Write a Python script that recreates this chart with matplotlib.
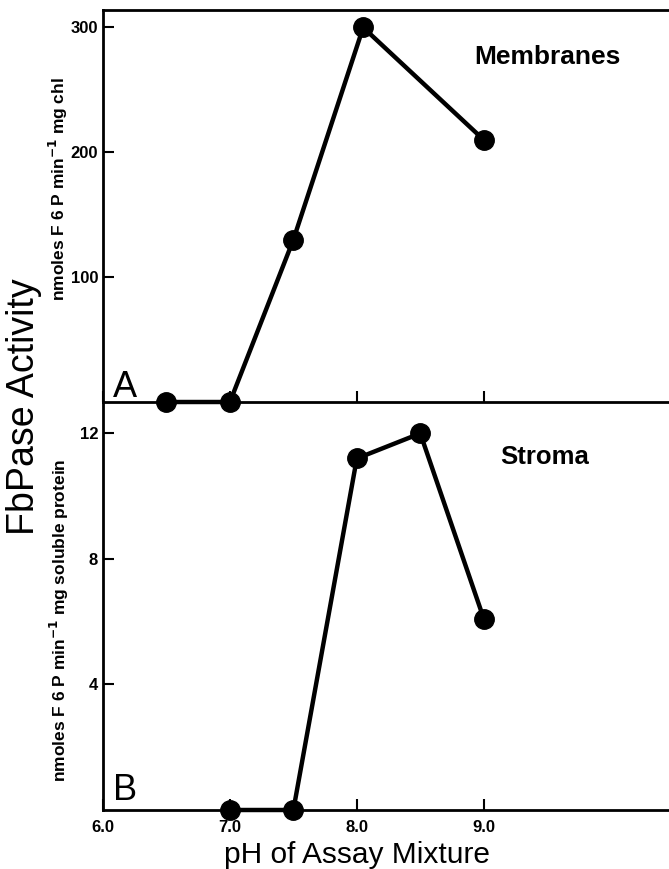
import matplotlib
matplotlib.use("Agg")
import matplotlib.pyplot as plt

# ? Panel A : membranes
ph_membranes = [6.5, 7.0, 7.5, 8.05, 9.0]
act_membranes = [0, 0, 130, 300, 210]

# ? Panel B : stroma
ph_stroma = [7.0, 7.5, 8.0, 8.5, 9.0]
act_stroma = [0, 0, 11.2, 12.0, 6.1]

x_ticks = [6.0, 7.0, 8.0, 9.0]
x_tick_labels = ["6.0", "7.0", "8.0", "9.0"]
y_ticks_membranes = [100, 200, 300]
y_ticks_stroma = [4, 8, 12]

tick_font = {"fontsize": 12, "fontweight": "bold"}


def style_axis(ax):
    """Common look of both panels"""
    ax.set_facecolor("none")
    ax.set_xlim(6.0, 10.46)
    ax.tick_params(direction="in", length=8, width=1.5, color="black")
    ax.spines["right"].set_visible(False)
    for side in ("left", "top", "bottom"):
        ax.spines[side].set_linewidth(2.0)


def main():
    plt.rcParams["font.family"] = ["Liberation Sans", "DejaVu Sans"]

    fig = plt.figure(figsize=(6.69, 8.69), dpi=100)
    ax1 = fig.add_axes([0.154, 0.5374, 0.846, 0.4511])
    ax2 = fig.add_axes([0.154, 0.0679, 0.846, 0.4695])

    # * Top panel
    ax1.plot(ph_membranes, act_membranes, color="black", lw=3.2,
             marker="o", ms=14, clip_on=False, zorder=5)
    ax1.set_ylim(0, 314)
    style_axis(ax1)
    ax1.set_xticks(x_ticks)
    ax1.set_yticks(y_ticks_membranes)
    ax1.set_yticklabels([str(v) for v in y_ticks_membranes], **tick_font)
    ax1.tick_params(axis="x", labelbottom=False)
    ax1.text(0.018, 0.012, "A", transform=ax1.transAxes, fontsize=26,
             ha="left", va="baseline")
    ax1.text(9.5, 276, "Membranes", fontsize=19, fontweight="bold",
             ha="center", va="center")

    # * Bottom panel
    ax2.plot(ph_stroma, act_stroma, color="black", lw=3.2,
             marker="o", ms=14, clip_on=False, zorder=5)
    ax2.set_ylim(0, 13.0)
    style_axis(ax2)
    ax2.set_yticks(y_ticks_stroma)
    ax2.set_yticklabels([str(v) for v in y_ticks_stroma], **tick_font)
    ax2.set_xticks(x_ticks)
    ax2.set_xticklabels(x_tick_labels, **tick_font)
    ax2.spines["top"].set_visible(False)
    ax2.tick_params(axis="x", pad=7)
    ax2.text(0.018, 0.025, "B", transform=ax2.transAxes, fontsize=26,
             ha="left", va="baseline")
    ax2.text(9.48, 11.24, "Stroma", fontsize=18.5, fontweight="bold",
             ha="center", va="center")

    # * Axis titles
    fig.text(58 / 669, 1 - 189 / 869,
             "nmoles F 6 P min$^{\\mathbf{-1}}$ mg chl",
             rotation=90, ha="center", va="center",
             fontsize=12.5, fontweight="bold")
    fig.text(59 / 669, 1 - 620 / 869,
             "nmoles F 6 P min$^{\\mathbf{-1}}$ mg soluble protein",
             rotation=90, ha="center", va="center",
             fontsize=12.5, fontweight="bold")
    fig.text(24 / 669, 1 - 407 / 869, "FbPase Activity", rotation=90,
             ha="center", va="center", fontsize=27)
    fig.text(357 / 669, 1 - 855 / 869, "pH of Assay Mixture",
             ha="center", va="center", fontsize=21.5)

    fig.savefig("out.png", dpi=100)


if __name__ == "__main__":
    main()
